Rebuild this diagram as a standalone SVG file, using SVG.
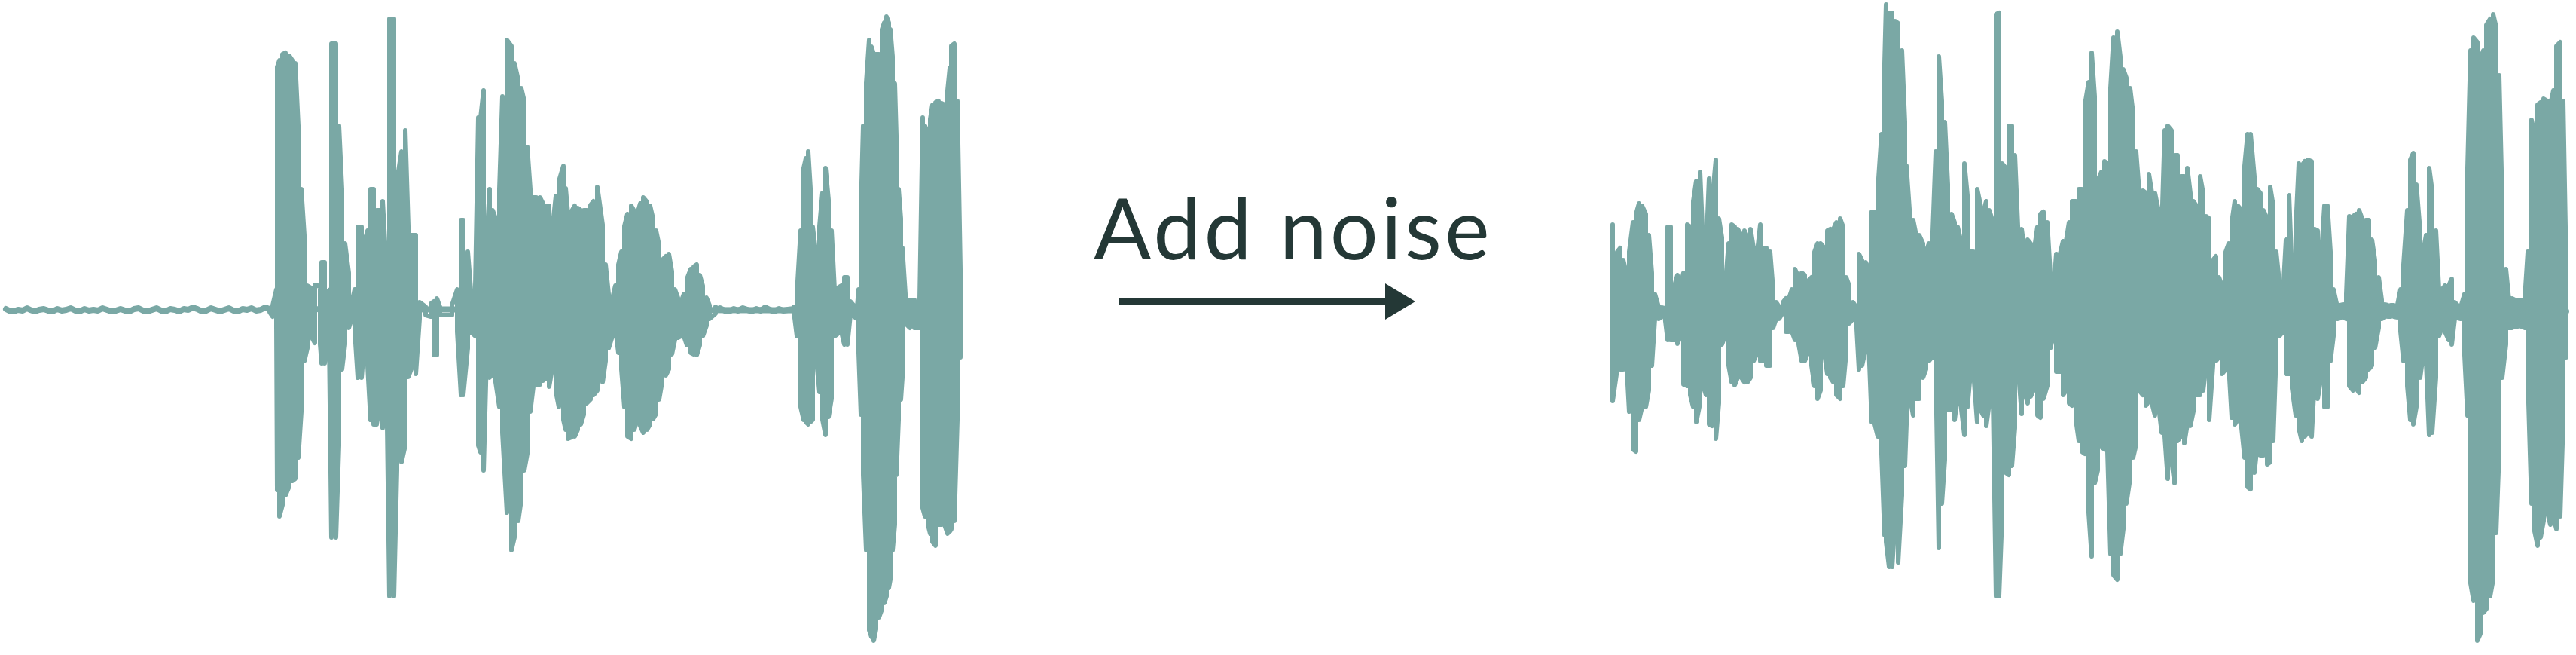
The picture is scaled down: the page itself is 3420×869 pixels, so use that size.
<svg xmlns="http://www.w3.org/2000/svg" width="3420" height="869" viewBox="0 0 3420 869">
<style>
.wave{fill:none;stroke:#7aa8a5;stroke-width:6;stroke-linejoin:round;stroke-linecap:round}
.quiet{fill:none;stroke:#7aa8a5;stroke-width:8;stroke-linejoin:round;stroke-linecap:round}
.label{font-family:Lato,"Open Sans","Liberation Sans",sans-serif;font-size:113px;letter-spacing:4px;fill:#243836}
</style>
<g id="clean-waveform">
<polyline class="quiet" points="8,410 12,412 18,413 24,411 30,412 36,409 40,411 46,413 52,411 58,410 64,412 70,413 76,410 82,412 88,411 94,409 100,412 106,413 112,410 118,412 124,411 130,412 136,409 142,411 148,413 154,412 160,410 166,412 172,413 178,410 184,409 190,412 196,413 202,411 208,409 214,412 220,413 226,410 232,411 238,413 244,410 250,411 256,408 262,410 268,413 274,412 280,409 286,411 292,413 298,411 304,409 310,412 316,413 322,410 328,411 334,409 340,412 346,411 352,408 358,410 1275,412"/>
<polyline class="quiet" points="950,411 956,409 962,412 968,413 974,410 980,412 986,409 992,411 998,413 1004,410 1010,412 1016,408 1022,411 1028,413 1034,410 1040,412 1046,411 1054,410"/>
<polyline class="wave" points="358,410 358,414 362,420 362,405 367,384 367,430 368,650 368,89 371,80 371,685 375,670 375,72 379,70 379,657 384,645 384,74 388,80 388,638 392,635 392,84 396,167 396,607 400,546 400,251 404,312 404,479 408,462 408,379 413,382 413,446 418,455 418,378 425,380 425,457 427,482 427,348 431,348 431,482 433,462 433,390 437,385 437,450 440,713 440,58 446,58 446,713 450,591 450,167 454,251 454,490 458,457 458,323 463,362 463,435 467,423 467,401 471,384 471,440 475,501 475,301 480,301 480,501 483,462 483,323 488,306 488,485 492,557 492,251 496,251 496,563 500,563 500,279 504,279 504,546 508,568 508,267 513,357 513,490 517,791 517,25 523,25 523,791 527,624 527,240 533,201 533,613 538,591 538,173 542,300 542,500 546,490 546,312 552,312 552,496 557,423 557,401 565,407 565,418 572,420 572,403 576,400 576,471 580,471 580,396 584,407 584,418 600,418 600,405 607,384 607,440 612,524 612,292 615,292 615,524 621,462 621,334 625,384 625,440 631,446 631,379 635,156 635,591 638,600 638,156 642,120 642,624 646,473 646,323 650,251 650,501 654,496 654,279 658,290 658,507 663,540 663,251 667,128 667,574 673,680 673,53 679,61 679,730 683,713 683,84 688,106 688,691 692,663 692,117 696,134 696,624 700,602 700,195 704,251 704,546 708,513 708,262 712,262 712,510 717,510 717,262 721,270 721,505 725,501 725,273 729,273 729,513 733,490 733,306 738,260 738,520 742,540 742,240 748,220 748,557 751,570 751,250 754,284 754,582 759,580 759,280 763,273 763,579 767,570 767,276 771,279 771,563 775,550 775,279 779,279 779,535 784,530 784,272 788,267 788,524 793,518 793,248 800,298 800,507 804,479 804,351 808,390 808,462 813,446 813,396 817,379 817,435 821,468 821,351 825,334 825,490 829,540 829,300 833,284 833,579 838,582 838,273 842,280 842,570 846,557 846,284 850,270 850,565 854,574 854,262 859,268 859,570 863,563 863,273 867,290 867,556 871,549 871,306 875,325 875,530 879,507 879,345 884,340 884,498 888,490 888,337 892,360 892,470 896,451 896,384 900,395 900,448 904,446 904,401 908,390 908,446 912,458 912,370 917,357 917,468 921,470 921,354 925,351 925,471 929,458 929,365 933,379 933,446 938,432 938,395 942,405 942,423 950,416 950,407"/>
<polyline class="wave" points="1054,407 1054,414 1058,446 1058,390 1063,306 1063,540 1067,557 1067,223 1070,210 1070,560 1073,563 1073,201 1076,250 1076,560 1079,557 1079,301 1083,334 1083,468 1088,520 1088,300 1092,256 1092,557 1096,577 1096,223 1100,265 1100,553 1104,529 1104,306 1108,384 1108,446 1112,443 1112,382 1117,379 1117,440 1121,457 1121,368 1125,368 1125,457 1129,418 1129,400 1134,406 1134,420 1138,423 1138,407 1140,384 1140,468 1143,550 1143,280 1146,167 1146,630 1150,730 1150,110 1154,53 1154,836 1157,845 1157,62 1160,72 1160,850 1163,835 1163,72 1167,72 1167,819 1171,808 1171,39 1174,30 1174,800 1177,791 1177,22 1180,30 1180,780 1182,769 1182,39 1185,75 1185,730 1188,696 1188,111 1190,180 1190,630 1193,557 1193,251 1196,290 1196,530 1198,501 1198,329 1202,390 1202,429 1208,435 1208,398 1214,398 1214,435 1221,435 1221,398 1225,156 1225,674 1228,685 1228,167 1232,178 1232,696 1235,708 1235,158 1238,139 1238,719 1242,724 1242,136 1246,134 1246,696 1250,696 1250,137 1254,139 1254,696 1258,708 1258,120 1261,90 1261,705 1263,702 1263,61 1267,58 1267,691 1271,557 1271,134 1275,357 1275,474"/>
</g>
<g id="noisy-waveform">
<polyline class="quiet" points="2141,413 3407,413"/>
<polyline class="wave" points="2141,298 2141,532 2147,490 2147,334 2151,329 2151,490 2155,490 2155,345 2159,362 2159,474 2163,546 2163,334 2168,295 2168,596 2172,599 2172,284 2176,270 2176,557 2180,540 2180,273 2185,284 2185,540 2189,518 2189,312 2193,362 2193,485 2197,423 2197,390 2202,407 2202,423 2206,420 2206,408 2210,409 2210,418 2214,451 2214,301 2218,301 2218,451 2223,451 2223,379 2227,365 2227,456 2231,446 2231,379 2235,362 2235,510 2240,512 2240,298 2244,301 2244,524 2248,540 2248,267 2252,240 2252,560 2257,535 2257,228 2261,323 2261,512 2265,524 2265,334 2269,237 2269,563 2273,565 2273,267 2278,212 2278,582 2282,535 2282,290 2286,315 2286,457 2290,446 2290,384 2295,323 2295,485 2299,507 2299,298 2303,301 2303,511 2307,501 2307,304 2312,312 2312,501 2316,507 2316,306 2320,315 2320,507 2324,501 2324,304 2328,329 2328,479 2333,468 2333,334 2337,298 2337,479 2341,479 2341,329 2345,329 2345,485 2350,485 2350,334 2354,384 2354,435 2358,423 2358,401 2362,407 2362,423 2367,415 2367,401 2371,396 2371,440 2375,440 2375,396 2379,384 2379,440 2383,451 2383,357 2388,368 2388,457 2392,479 2392,362 2396,365 2396,479 2400,468 2400,373 2405,368 2405,485 2409,512 2409,334 2413,323 2413,529 2417,518 2417,323 2422,329 2422,468 2426,496 2426,306 2430,304 2430,501 2434,507 2434,304 2438,295 2438,524 2443,529 2443,290 2447,301 2447,512 2451,468 2451,368 2455,379 2455,429 2460,423 2460,401 2464,407 2464,418 2468,490 2468,337 2472,345 2472,485 2477,462 2477,348 2481,357 2481,457 2485,560 2485,281 2489,281 2489,563 2493,579 2493,251 2498,178 2498,602 2502,710 2502,84 2504,6 2504,719 2508,752 2508,17 2512,17 2512,752 2516,691 2516,28 2520,31 2520,746 2525,657 2525,67 2529,162 2529,618 2531,563 2531,220 2536,292 2536,529 2540,551 2540,292 2544,312 2544,529 2548,529 2548,312 2553,323 2553,501 2557,490 2557,334 2561,323 2561,479 2565,474 2565,334 2570,201 2570,490 2574,727 2574,75 2578,134 2578,668 2582,610 2582,162 2586,245 2586,543 2591,543 2591,284 2595,295 2595,557 2599,524 2599,301 2603,318 2603,535 2608,577 2608,217 2612,259 2612,540 2616,496 2616,334 2620,334 2620,493 2625,560 2625,251 2629,270 2629,543 2633,551 2633,281 2637,267 2637,565 2641,535 2641,279 2646,295 2646,529 2650,791 2650,19 2654,17 2654,791 2658,685 2658,217 2663,223 2663,627 2667,630 2667,167 2671,167 2671,618 2675,568 2675,206 2680,323 2680,496 2684,549 2684,304 2688,334 2688,521 2692,535 2692,318 2696,323 2696,526 2701,515 2701,329 2705,301 2705,551 2709,554 2709,284 2713,281 2713,529 2718,512 2718,295 2722,362 2722,462 2726,446 2726,390 2730,337 2730,493 2735,493 2735,337 2739,320 2739,524 2743,518 2743,320 2747,295 2747,535 2751,538 2751,267 2756,267 2756,557 2760,585 2760,251 2764,251 2764,599 2768,602 2768,139 2773,109 2773,680 2777,738 2777,70 2781,128 2781,641 2785,624 2785,240 2790,228 2790,593 2794,596 2794,214 2798,217 2798,599 2802,735 2802,117 2806,50 2806,763 2811,769 2811,42 2815,75 2815,735 2819,702 2819,92 2823,103 2823,668 2828,635 2828,117 2832,150 2832,607 2836,590 2836,201 2840,253 2840,518 2845,524 2845,253 2849,256 2849,538 2853,532 2853,231 2857,256 2857,535 2861,551 2861,256 2866,281 2866,540 2870,574 2870,304 2874,173 2874,579 2878,635 2878,167 2883,173 2883,610 2887,641 2887,206 2891,206 2891,585 2895,579 2895,234 2900,234 2900,588 2904,563 2904,223 2908,256 2908,565 2912,546 2912,267 2916,273 2916,524 2921,524 2921,234 2925,256 2925,518 2929,485 2929,287 2933,290 2933,557 2938,485 2938,345 2942,340 2942,479 2946,474 2946,368 2950,379 2950,496 2955,490 2955,334 2959,323 2959,485 2963,554 2963,295 2967,267 2967,563 2971,557 2971,273 2976,279 2976,568 2980,607 2980,220 2984,178 2984,646 2988,649 2988,178 2993,234 2993,627 2997,590 2997,251 3001,256 3001,604 3005,604 3005,279 3010,290 3010,616 3014,613 3014,248 3018,273 3018,585 3022,468 3022,334 3026,373 3026,446 3031,440 3031,390 3035,318 3035,496 3039,496 3039,259 3043,362 3043,515 3048,551 3048,301 3052,217 3052,568 3056,585 3056,220 3060,214 3060,579 3064,574 3064,212 3069,214 3069,579 3073,501 3073,304 3077,306 3077,529 3081,504 3081,351 3086,273 3086,540 3090,540 3090,273 3094,334 3094,479 3098,446 3098,384 3103,407 3103,423 3107,422 3107,405 3111,404 3111,421 3115,423 3115,390 3119,287 3119,512 3124,518 3124,287 3128,284 3128,515 3132,521 3132,279 3136,290 3136,507 3141,501 3141,292 3145,292 3145,490 3149,485 3149,318 3153,345 3153,462 3158,435 3158,368 3162,398 3162,423 3166,421 3166,404 3170,405 3170,420 3174,420 3174,405 3178,405 3178,420 3183,421 3183,404 3187,384 3187,440 3191,479 3191,351 3196,279 3196,512 3200,557 3200,212 3204,203 3204,563 3208,540 3208,245 3213,306 3213,501 3217,471 3217,334 3221,312 3221,479 3225,577 3225,223 3229,253 3229,574 3234,501 3234,306 3238,384 3238,446 3242,435 3242,384 3246,379 3246,440 3251,451 3251,379 3255,370 3255,457 3259,423 3259,401 3263,405 3263,422 3267,423 3267,407 3272,390 3272,471 3276,551 3276,223 3280,67 3280,774 3284,797 3284,50 3289,56 3289,850 3293,841 3293,78 3297,67 3297,813 3301,808 3301,33 3306,25 3306,791 3310,769 3310,19 3314,36 3314,707 3318,599 3318,100 3322,267 3322,501 3327,457 3327,357 3331,398 3331,435 3335,435 3335,396 3339,398 3339,433 3343,433 3343,398 3347,398 3347,433 3352,435 3352,396 3356,334 3356,501 3361,668 3361,159 3365,178 3365,705 3369,724 3369,139 3373,136 3373,713 3377,691 3377,131 3382,134 3382,680 3386,696 3386,139 3390,120 3390,685 3394,702 3394,61 3399,56 3399,685 3403,557 3403,134 3407,357 3407,474"/>
</g>
<g id="add-noise-label">
<text class="label" x="1452" y="344">Add noise</text>
</g>
<g id="connectors">
<line x1="1486" y1="400" x2="1842" y2="400" stroke="#243836" stroke-width="10"/>
<polygon points="1839,376 1879,400 1839,424" fill="#243836"/>
</g>
</svg>
